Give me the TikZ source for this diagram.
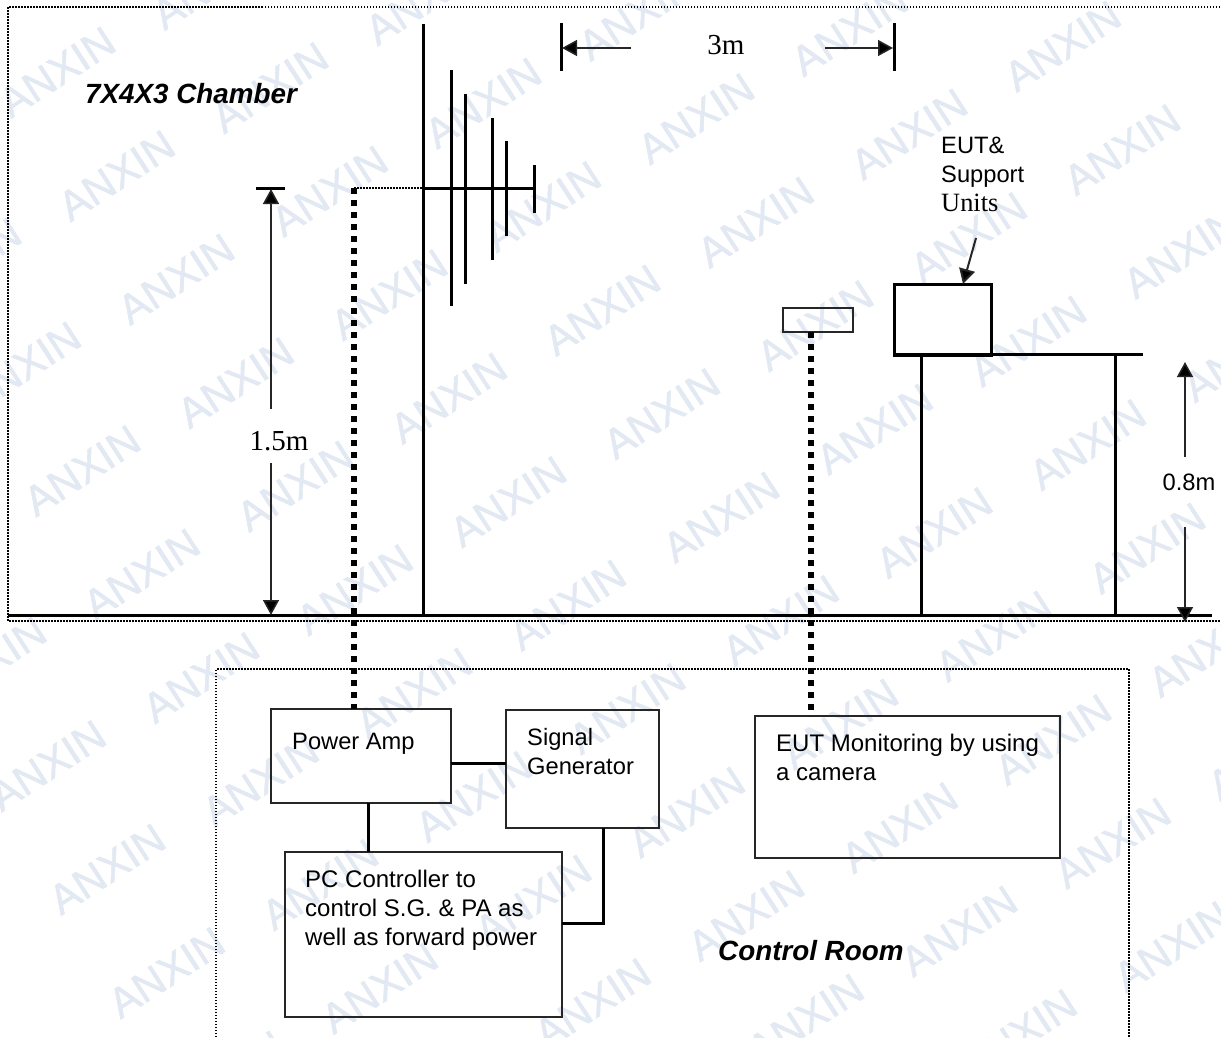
\documentclass[tikz,border=0pt]{standalone}
\usepackage{fontspec}
\usepackage{xcolor}
\usepackage{tikz}
\usetikzlibrary{arrows.meta}
\setmainfont{Liberation Sans}
\newfontfamily\timesface{Liberation Serif}
\newfontfamily\markface[FakeBold=1.2]{Liberation Sans}
\definecolor{markcolor}{HTML}{E2E9F3}
\tikzset{
	partbox/.style={draw=black!85, line width=2pt, inner sep=0pt, outer sep=0pt, anchor=north west},
	boxtext/.style={font=\fontsize{23.7}{29}\selectfont, align=left, inner sep=0pt, anchor=base west},
	longtext/.style={boxtext, font=\fontsize{24}{29}\selectfont},
	titletext/.style={font=\fontsize{27.8}{32}\selectfont\bfseries\itshape, inner sep=0pt, anchor=base west},
	dimtext/.style={font=\fontsize{29}{30}\selectfont\timesface, inner sep=0pt},
	heavy/.style={line width=3pt, black},
	wire/.style={line width=3pt, black},
	cable/.style={line width=6pt, black, dash pattern=on 6pt off 6pt},
	roomline/.style={line width=1.5pt, black, dash pattern=on 1.5pt off 1.5pt},
	dimline/.style={line width=1.5pt, black!85, -{Triangle[length=15pt,width=16pt,fill=black]}}
}
\begin{document}
\begin{tikzpicture}[x=1pt, y=-1pt]
	\useasboundingbox (0,0) rectangle (1221,1037);

	% Watermark
	\begin{scope}
		\clip (0,0) rectangle (1221,1037);
		\foreach \i in {-2,...,6}
			\foreach \j in {-1,...,10} {
				\pgfmathsetmacro\markx{57+213*\i+59.5*\j}
				\pgfmathsetmacro\marky{72+15.5*\i+103.5*\j}
				\pgfmathtruncatemacro\markin{and(and(\markx>-70,\markx<1291),and(\marky>-45,\marky<1082))}
				\ifnum\markin=1
					\node[markcolor, rotate=33, font=\fontsize{42}{42}\selectfont\markface] (mark\i\j) at (\markx,\marky) {ANXIN};
				\fi
			}
	\end{scope}

	% Chamber and control room outlines
	\draw[roomline] (1223,7) -- (8,7) -- (8,621) -- (1223,621);
	\draw[roomline] (216,1040) -- (216,669) -- (1129,669) -- (1129,1040);
	\node[titletext] (chamber) at (85,103) {7X4X3 Chamber};
	\node[titletext] (control) at (718,960) {Control Room};

	% Ground
	\coordinate (g1) at (8,615);
	\coordinate (g2) at (1212,615);
	\draw[heavy] (g1) -- (g2);

	% Antenna
	\coordinate (mast) at (423,24);
	\coordinate (mastfoot) at (423,615);
	\coordinate (boomend) at (534,188);
	\coordinate (feed) at (423,188);
	\draw[heavy] (mast) -- (mastfoot);
	\draw[heavy] (feed) -- (boomend);
	\draw[heavy] (451,70) -- (451,306);
	\draw[heavy] (465,94) -- (465,284);
	\draw[heavy] (492,118) -- (492,260);
	\draw[heavy] (506,141) -- (506,236);
	\draw[heavy] (534,165) -- (534,213);

	% Control room boxes
	\node[partbox, minimum width=180pt, minimum height=94pt] (amp) at (271,709) {};
	\node[partbox, minimum width=153pt, minimum height=118pt] (siggen) at (506,710) {};
	\node[partbox, minimum width=277pt, minimum height=165pt] (pc) at (285,852) {};
	\node[partbox, minimum width=305pt, minimum height=142pt] (monitor) at (755,716) {};
	\node[boxtext] (amptext) at (292,749) {Power Amp};
	\node[boxtext] (sigtext) at (527,774) {Signal\\Generator};
	\node[longtext] (pctext) at (305,945) {PC Controller to\\control S.G. \& PA as\\well as forward power};
	\node[longtext] (montext) at (776,780) {EUT Monitoring by using\\a camera};

	% Wires between boxes
	\coordinate (ampout) at (451,763);
	\coordinate (sigin) at (506,763);
	\coordinate (ampdown) at (368,803);
	\coordinate (pcup) at (368,852);
	\coordinate (sigdown) at (603,828);
	\coordinate (pcright) at (562,923);
	\draw[wire] (ampout) -- (sigin);
	\draw[wire] (ampdown) -- (pcup);
	\draw[wire] (sigdown) |- (pcright);

	% Table and units
	\node[partbox, draw=black, line width=3pt, minimum width=97pt, minimum height=71pt] (eut) at (894,284) {};
	\node[partbox, minimum width=70pt, minimum height=24pt] (camera) at (783,308) {};
	\coordinate (top1) at (894,354);
	\coordinate (top2) at (1143,354);
	\draw[heavy] (top1) -- (top2);
	\draw[heavy] (921,354) -- (921,615);
	\draw[heavy] (1115,354) -- (1115,615);
	\node[boxtext] (euttext) at (941,211) {EUT\&\\Support\\{\fontsize{26.4}{29}\selectfont\timesface Units}};
	\coordinate (eutarrow) at (976,238);
	\draw[dimline, line width=2pt] (eutarrow) -- (963,284);

	% Cables
	\coordinate (ampcable) at (354,709);
	\coordinate (feedcable) at (354,188);
	\coordinate (camcable) at (811,332);
	\coordinate (moncable) at (811,716);
	\draw[cable] (feedcable) -- (ampcable);
	\draw[cable] (camcable) -- (moncable);
	\draw[roomline] (feedcable) -- (feed);

	% Distance 3m
	\draw[heavy] (561,23) -- (561,71);
	\draw[heavy] (894,23) -- (894,71);
	\node[dimtext] (threem) at (726,45) {3m};
	\draw[dimline] (631,48) -- (562,48);
	\draw[dimline] (825,48) -- (893,48);

	% Height 1.5m
	\draw[heavy] (256,188) -- (285,188);
	\node[dimtext] (antheight) at (279,441) {1.5m};
	\draw[dimline] (271,409) -- (271,189);
	\draw[dimline] (271,463) -- (271,615);

	% Height 0.8m
	\node[boxtext, anchor=center] (tableheight) at (1189,482) {0.8m};
	\draw[dimline] (1185,457) -- (1185,362);
	\draw[dimline] (1185,527) -- (1185,622);
\end{tikzpicture}
\end{document}
